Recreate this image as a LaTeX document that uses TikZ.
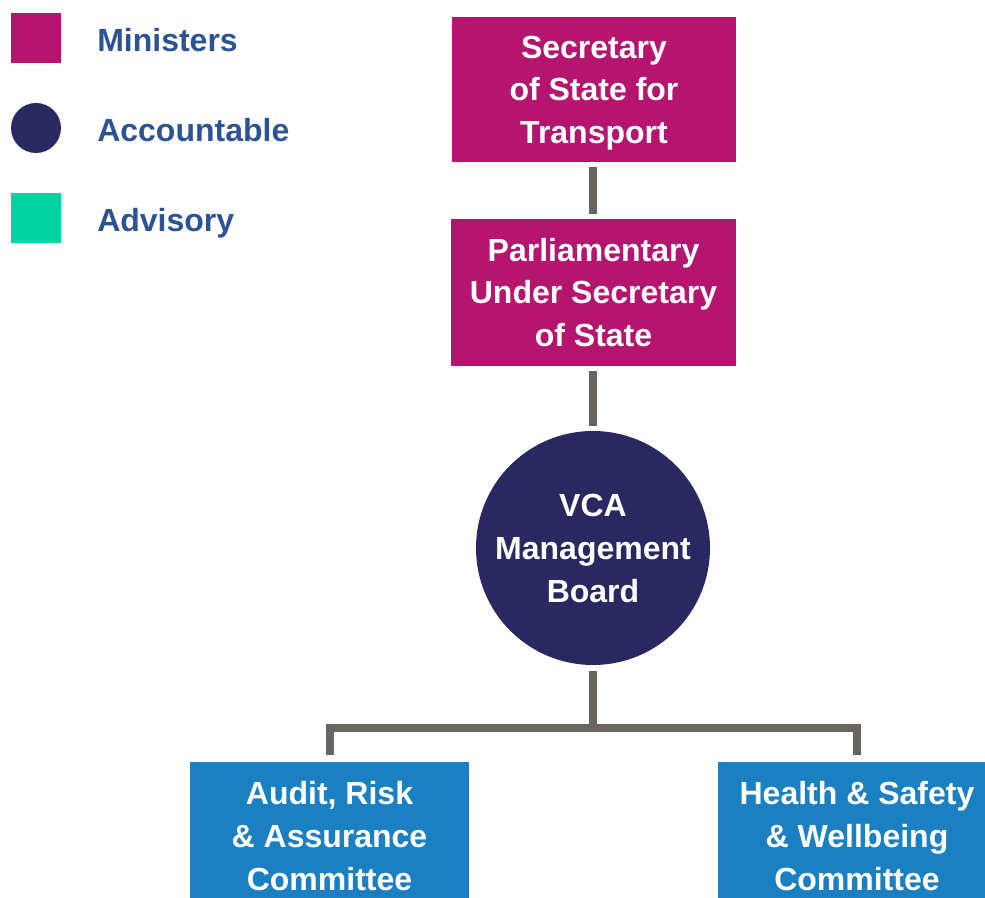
\documentclass[tikz,border=0pt]{standalone}
\usepackage{fontspec}
\setmainfont{Liberation Sans}
% fixed-height first and last lines so every box centres its text the same way
\newcommand{\topline}{\rule{0pt}{22pt}}
\newcommand{\bottomline}{\rule[-5pt]{0pt}{5pt}}
\begin{document}
\definecolor{minister}{HTML}{B5146F}
\definecolor{accountable}{HTML}{2A2860}
\definecolor{advisory}{HTML}{00D4A4}
\definecolor{committee}{HTML}{1B80C2}
\definecolor{legendtext}{HTML}{2D5394}
\definecolor{linkgrey}{HTML}{686460}
\begin{tikzpicture}[x=0.75pt,y=-0.75pt,
  boxtext/.style={text=white,font=\bfseries\fontsize{24}{32}\selectfont,align=center,inner sep=0pt},
  ministerbox/.style={boxtext,fill=minister,rectangle},
  boardcircle/.style={boxtext,fill=accountable,circle,minimum size=175.5pt},
  committeebox/.style={boxtext,fill=committee,rectangle,minimum width=209.25pt,minimum height=111pt},
  legendlabel/.style={text=legendtext,font=\bfseries\fontsize{24}{28}\selectfont,anchor=base west,inner sep=0pt},
  link/.style={draw=linkgrey,line width=6pt,line join=miter},
  gap/.style={shorten <=3.75pt,shorten >=3.75pt}]
\useasboundingbox (0,0) rectangle (985,898);
\clip (0,0) rectangle (985,898);

% legend
\fill[minister] (11,13) rectangle (61,63);
\fill[accountable] (36,128) circle[radius=25];
\fill[advisory] (11,193) rectangle (61,243);
\node[legendlabel] (lgmin) at (97,51.5) {Ministers};
\node[legendlabel] (lgacc) at (97,141.5) {Accountable};
\node[legendlabel] (lgadv) at (97,231.5) {Advisory};

% ministers
\node[ministerbox,minimum width=213pt,minimum height=108.75pt] (sos) at (594,89.5)
  {\topline Secretary\\of State for\\Transport\bottomline};
\node[ministerbox,minimum width=213.75pt,minimum height=110.25pt] (puss) at (593.5,292.5)
  {\topline Parliamentary\\Under Secretary\\of State\bottomline};

% board
\node[boardcircle] (board) at (593,548) {\topline VCA\\Management\\Board\bottomline};

% committees
\node[committeebox] (arac) at (329.5,836) {\topline Audit, Risk\\\& Assurance\\Committee\bottomline};
\node[committeebox] (hsw) at (857,836) {\topline Health \& Safety\\\& Wellbeing\\Committee\bottomline};

% connectors
\draw[link,gap] (sos.south -| board.center) -- (puss.north -| board.center);
\draw[link,gap] (puss.south -| board.center) -- (board.north);
\coordinate (bar) at (593,727.5);
\coordinate (barL) at (arac.north |- bar);
\coordinate (barR) at (hsw.north |- bar);
\draw[link,shorten <=4.5pt] (board.south) -- (bar);
\draw[link,shorten <=5.25pt,shorten >=5.25pt] (arac.north) -- (barL) -- (barR) -- (hsw.north);
\end{tikzpicture}
\end{document}
